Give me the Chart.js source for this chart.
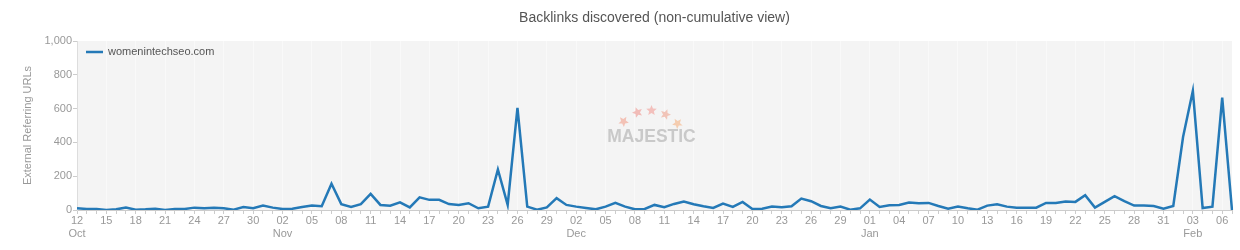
<!DOCTYPE html>
<html>
<head>
<meta charset="utf-8">
<title>Backlinks discovered</title>
<script src="https://cdn.jsdelivr.net/npm/chart.js@4.4.0/dist/chart.umd.min.js"></script>
<style>
  html, body { margin: 0; padding: 0; background: #fff; }
  #chart { display: block; }
</style>
</head>
<body>
<canvas id="chart" width="1240" height="250"></canvas>
<script>
// Daily new referring URLs, 12 Oct -> 07 Feb
const chartTitle = 'Backlinks discovered (non-cumulative view)';
const seriesName = 'womenintechseo.com';
const startDay = { year: 2022, month: 9, day: 12 };
const monthNames = ['Jan', 'Feb', 'Mar', 'Apr', 'May', 'Jun', 'Jul', 'Aug', 'Sep', 'Oct', 'Nov', 'Dec'];

const octValues = [10, 6, 6, 0, 4, 14, 2, 4, 8, 0, 6, 6, 14, 10, 14, 10, 2, 18, 10, 26];
const novValues = [14, 6, 8, 18, 26, 22, 155, 35, 18, 35, 95, 30, 25, 45, 15, 75, 60, 60, 35, 30,
                   40, 10, 20, 240, 30, 605, 20, 2, 15, 70];
const decValues = [30, 20, 12, 4, 20, 42, 20, 4, 6, 30, 16, 36, 50, 34, 22, 12, 38, 18, 48, 6,
                   8, 20, 16, 22, 68, 52, 24, 10, 20, 2, 10];
const janValues = [62, 18, 28, 30, 44, 40, 42, 24, 8, 20, 10, 2, 26, 34, 20, 14, 14, 14, 42, 42,
                   50, 48, 88, 14, 48, 82, 52, 26, 26, 24, 8];
const febValues = [24, 432, 705, 12, 20, 665, 0];

const backlinks = [...octValues, ...novValues, ...decValues, ...janValues, ...febValues];

const yTicks = [0, 200, 400, 600, 800, 1000];

const fontFamily = '"Liberation Sans", Arial, sans-serif';

// one category per day
const dates = [];
for (let i = 0; i < backlinks.length; i++) {
  dates.push(new Date(Date.UTC(startDay.year, startDay.month, startDay.day + i)));
}
const labels = dates.map(d => d.toISOString().slice(0, 10));

// label every third day, month name under the first label of each month
const seenMonths = new Set();
const tickText = dates.map((d, i) => {
  if (i % 3 !== 0) return '';
  const day = String(d.getUTCDate()).padStart(2, '0');
  const m = d.getUTCMonth();
  if (!seenMonths.has(m)) {
    seenMonths.add(m);
    return [day, monthNames[m]];
  }
  return day;
});

// plot background + title centred over the plot area
const plotBackground = {
  id: 'plotBackground',
  beforeDraw(chart) {
    const { ctx, chartArea: a } = chart;
    ctx.save();
    ctx.fillStyle = '#f4f4f4';
    ctx.fillRect(a.left, a.top, a.right - a.left, a.bottom - a.top);
    ctx.fillStyle = '#555';
    ctx.font = '14px ' + fontFamily;
    ctx.textAlign = 'center';
    ctx.textBaseline = 'middle';
    ctx.fillText(chartTitle, (a.left + a.right) / 2, 18);
    ctx.restore();
  }
};

function drawStar(ctx, cx, cy, r, rot) {
  ctx.beginPath();
  for (let k = 0; k < 10; k++) {
    const rr = k % 2 === 0 ? r : r * 0.45;
    const ang = rot - Math.PI / 2 + k * Math.PI / 5;
    const px = cx + rr * Math.cos(ang);
    const py = cy + rr * Math.sin(ang);
    if (k === 0) ctx.moveTo(px, py); else ctx.lineTo(px, py);
  }
  ctx.closePath();
  ctx.fill();
}

// faint logo in the middle of the plot
const watermark = {
  id: 'watermark',
  beforeDatasetsDraw(chart) {
    const { ctx, chartArea: a } = chart;
    const cx = (a.left + a.right) / 2 - 3;
    const cy = (a.top + a.bottom) / 2;
    ctx.save();
    ctx.fillStyle = '#c9c9c9';
    ctx.font = 'bold 17.5px ' + fontFamily;
    ctx.textAlign = 'center';
    ctx.textBaseline = 'middle';
    ctx.fillText('MAJESTIC', cx, cy + 12);
    const stars = [[-28, -4, '#f3c2b6'], [-14, -13, '#f1bcb8'], [0, -15, '#f3c0bc'], [14, -11, '#f1c4b8'], [26, -2, '#f5cdb0']];
    stars.forEach(([dx, dy, c], k) => {
      ctx.fillStyle = c;
      drawStar(ctx, cx + dx, cy + dy, 5.5, (k - 2) * 0.35);
    });
    ctx.restore();
  }
};

const insideLegend = {
  id: 'insideLegend',
  afterDatasetsDraw(chart) {
    const { ctx, chartArea: a } = chart;
    const ds = chart.data.datasets[0];
    ctx.save();
    ctx.strokeStyle = ds.borderColor;
    ctx.lineWidth = 2.5;
    ctx.beginPath();
    ctx.moveTo(a.left + 9, a.top + 11);
    ctx.lineTo(a.left + 26, a.top + 11);
    ctx.stroke();
    ctx.fillStyle = '#555';
    ctx.font = '11px ' + fontFamily;
    ctx.textBaseline = 'middle';
    ctx.fillText(ds.label, a.left + 31, a.top + 11);
    ctx.restore();
  }
};

const ctx = document.getElementById('chart');
new Chart(ctx, {
  type: 'line',
  data: {
    labels: labels,
    datasets: [{
      label: seriesName,
      data: backlinks,
      borderColor: '#2479b7',
      borderWidth: 2.5,
      pointRadius: 0,
      tension: 0,
      fill: false
    }]
  },
  options: {
    responsive: false,
    animation: false,
    font: { family: fontFamily },
    layout: { padding: { left: 17, right: 8, top: 41, bottom: 0 } },
    plugins: {
      legend: { display: false },
      tooltip: { enabled: false },
      title: { display: false }
    },
    scales: {
      x: {
        ticks: {
          autoSkip: false,
          maxRotation: 0,
          color: '#999',
          padding: 0,
          font: { size: 11, family: fontFamily },
          callback: (value, index) => tickText[index]
        },
        grid: {
          drawOnChartArea: true,
          color: (c) => (c.index % 3 === 0 ? '#f9f9f9' : 'rgba(0,0,0,0)'),
          tickColor: '#ccc',
          tickLength: 4
        },
        border: { color: '#ccc' },
        afterFit(scale) { scale.height = 40; }
      },
      y: {
        min: 0,
        max: 1000,
        afterBuildTicks(scale) { scale.ticks = yTicks.map(v => ({ value: v })); },
        ticks: {
          color: '#999',
          padding: 1,
          font: { size: 11, family: fontFamily },
          callback: (v) => v.toLocaleString('en-US')
        },
        grid: { drawOnChartArea: false, tickColor: '#ccc', tickLength: 4 },
        border: { color: '#ddd' },
        title: {
          display: true,
          text: 'External Referring URLs',
          color: '#999',
          padding: { top: 4, bottom: 4 },
          font: { size: 11, family: fontFamily }
        },
        afterFit(scale) { scale.width = 60; }
      }
    }
  },
  plugins: [plotBackground, watermark, insideLegend]
});
</script>
</body>
</html>
